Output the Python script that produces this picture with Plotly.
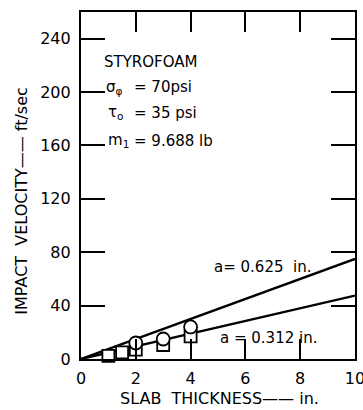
import plotly.graph_objects as go

# Data
line_x = [0, 10]
line_a625 = [0, 75]
line_a312 = [0, 47.5]
circle_x = [2, 3, 4]
circle_y = [12, 15, 24]
square_x = [1, 1.5, 2, 3, 4]
square_y = [2.3, 5, 7, 10.5, 17]
x_ticks = [0, 2, 4, 6, 8, 10]
y_ticks = [0, 40, 80, 120, 160, 200, 240]

FONT = "DejaVu Sans, sans-serif"

fig = go.Figure()
fig.add_trace(go.Scatter(x=line_x, y=line_a625, mode="lines",
                         line=dict(color="black", width=2.4), showlegend=False))
fig.add_trace(go.Scatter(x=line_x, y=line_a312, mode="lines",
                         line=dict(color="black", width=2.4), showlegend=False))
fig.add_trace(go.Scatter(x=square_x, y=square_y, mode="markers", cliponaxis=False,
                         marker=dict(symbol="square", size=12, color="white",
                                     line=dict(color="black", width=1.8)),
                         showlegend=False))
fig.add_trace(go.Scatter(x=circle_x, y=circle_y, mode="markers", cliponaxis=False,
                         marker=dict(symbol="circle", size=13, color="white",
                                     line=dict(color="black", width=1.8)),
                         showlegend=False))

ann = [
    dict(x=0.77, y=222.5, text="STYROFOAM"),
    dict(x=0.85, y=203.8, text="σ<sub>φ</sub>"),
    dict(x=1.85, y=203.8, text="= 70psi"),
    dict(x=0.92, y=184.7, text="τ<sub>o</sub>"),
    dict(x=1.85, y=184.7, text="= 35 psi"),
    dict(x=0.92, y=163.4, text="m<sub>1</sub>"),
    dict(x=1.85, y=163.4, text="= 9.688 lb"),
    dict(x=4.78, y=69, text="a= 0.625  in."),
    dict(x=5.0, y=15.7, text="a = 0.312 in."),
]
for a in ann:
    fig.add_annotation(x=a["x"], y=a["y"], text=a["text"], showarrow=False,
                       xanchor="left", yanchor="middle",
                       font=dict(family=FONT, size=15, color="black"))

fig.add_annotation(x=0.504, y=-0.115, xref="paper", yref="paper",
                   text="SLAB  THICKNESS—— in.", showarrow=False,
                   xanchor="center", yanchor="middle",
                   font=dict(family=FONT, size=16, color="black"))
fig.add_annotation(x=-0.217, y=0.455, xref="paper", yref="paper",
                   text="IMPACT  VELOCITY—— ft/sec", showarrow=False, textangle=-90,
                   xanchor="center", yanchor="middle",
                   font=dict(family=FONT, size=16, color="black"))

fig.update_xaxes(range=[0, 10], tickvals=x_ticks, ticktext=[str(v) for v in x_ticks],
                 ticks="inside", ticklen=20, tickwidth=2, tickcolor="black",
                 showline=True, linecolor="black", linewidth=2.2, mirror="ticks",
                 showgrid=False, zeroline=False, ticklabelstandoff=4,
                 ticklabeloverflow="allow", automargin=False,
                 tickfont=dict(family=FONT, size=16, color="black"))
fig.update_yaxes(range=[0, 260], tickvals=y_ticks, ticktext=[str(v) for v in y_ticks],
                 ticks="inside", ticklen=24, tickwidth=2, tickcolor="black",
                 showline=True, linecolor="black", linewidth=2.2, mirror="ticks",
                 showgrid=False, zeroline=False, ticklabelstandoff=5,
                 automargin=False,
                 tickfont=dict(family=FONT, size=16, color="black"))

fig.update_layout(width=363, height=410,
                  margin=dict(l=81, r=8, t=12, b=51),
                  paper_bgcolor="white", plot_bgcolor="white",
                  showlegend=False)

fig.write_html("out.html", config={"displayModeBar": False},
               post_script="document.body.style.margin='0';")
